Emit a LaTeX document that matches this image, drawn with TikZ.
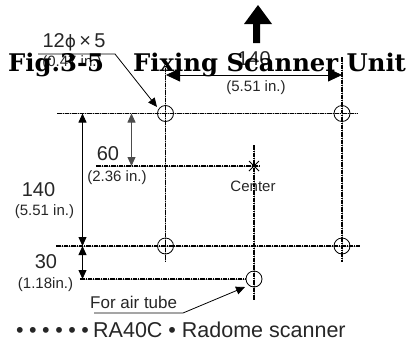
\documentclass[tikz,border=0pt]{standalone}
\usepackage{fontspec}
\setmainfont{Liberation Sans}
\newfontfamily\titlefont{DejaVu Serif}
\newfontfamily\symfont{DejaVu Sans}
\usetikzlibrary{arrows.meta}
\tikzset{
 x=1pt,y=-1pt,
 cl/.style={line width=1.1pt,dash pattern=on 4.5pt off 1pt on 1pt off 1pt,black,preaction={draw=black!30,line width=.7pt,solid}},
 hole/.style={circle,draw,line width=.8pt,minimum size=16pt,inner sep=0pt},
 dim/.style={line width=.8pt,{Triangle[length=9pt,width=8pt]}-{Triangle[length=9pt,width=8pt]}},
 dimbig/.style={line width=.8pt,{Triangle[length=14pt,width=13pt]}-{Triangle[length=14pt,width=13pt]}},
 lead/.style={line width=.8pt,-{Triangle[length=9pt,width=8pt]}},
 big/.style={font=\fontsize{20}{20}\selectfont,inner sep=0pt,text=black!85},
 small/.style={font=\fontsize{15}{15}\selectfont,inner sep=0pt,text=black!85},
 ttl/.style={font=\titlefont\bfseries\fontsize{24.3}{24.3}\selectfont,inner sep=0pt,anchor=base west},
 foot/.style={font=\fontsize{21.5}{21.5}\selectfont,inner sep=0pt,text=black!85,anchor=base west},
}
\begin{document}
\begin{tikzpicture}
\useasboundingbox (0,0) rectangle (412,346);
\coordinate (tl) at (165.5,113.5);
\coordinate (tr) at (342,113.5);
\coordinate (bl) at (165.5,246);
\coordinate (br) at (342,246);
\coordinate (air) at (254,279);
\coordinate (ctr) at (254,166);
% up arrow
\fill (253,43) -- (253,24) -- (244,24) -- (258,5) -- (272,24) -- (260,24) -- (260,43) -- cycle;
% texts under the title
\node[big] (a) at (74,42) {12{\symfont\fontsize{17}{17}\selectfont ϕ}\,×\,5};
\node[small] (a2) at (72,63) {(0.47 in.)};
\node[big] (b) at (254,59) {140};
\node[small] (b2) at (256,88) {(5.51 in.)};
% title
\node[ttl] (t1) at (8,71) {Fig.3-5};
\node[ttl] (t2) at (133,71) {Fixing Scanner Unit};
% centre lines
\draw[cl] (165.5,60) -- (165.5,262);
\draw[cl] (342,57) -- (342,262);
\draw[cl] (254,145) -- (254,300);
\draw[cl] (57,113.5) -- (358,113.5);
\draw[cl] (96,166) -- (260,166);
\draw[cl] (56,246) -- (360,246);
\draw[cl] (80,279) -- (246,279);
% holes
\node[hole] (h1) at (tl) {};
\node[hole] (h2) at (tr) {};
\node[hole] (h3) at (bl) {};
\node[hole] (h4) at (br) {};
\node[hole] (h5) at (air) {};
\draw[line width=.8pt] (249,161) -- (259,171) (249,171) -- (259,161);
% dimensions
\coordinate (d1a) at (82.5,113.5); \coordinate (d1b) at (82.5,246);
\draw[dim] (d1a) -- (d1b);
\coordinate (d2a) at (131.5,113.5); \coordinate (d2b) at (131.5,166);
\draw[dim,black!70] (d2a) -- (d2b);
\coordinate (d3a) at (82.5,246); \coordinate (d3b) at (82.5,279);
\draw[dim] (d3a) -- (d3b);
\coordinate (d4a) at (166,75); \coordinate (d4b) at (342,75);
\draw[dimbig] (d4a) -- (d4b);
% leaders
\coordinate (l1) at (38,54); \coordinate (l2) at (115,54); \coordinate (l3) at (157,107);
\draw[lead] (l1) -- (l2) -- (l3);
\coordinate (l4) at (94,313); \coordinate (l5) at (183,313); \coordinate (l6) at (245,287);
\draw[lead] (l4) -- (l5) -- (l6);
% texts
\node[big] (c) at (108,154) {60};
\node[small] (c2) at (117,178) {(2.36 in.)};
\node[big] (d) at (38.5,190) {140};
\node[small] (d2) at (44.5,212) {(5.51 in.)};
\node[big] (e) at (46,262) {30};
\node[small] (e2) at (45.5,285) {(1.18in.)};
\node[small] (f) at (253,186) {Center};
\node[font=\fontsize{17}{17}\selectfont,inner sep=0pt,text=black!85,anchor=base west] (g) at (90,308) {For air tube};
\node[foot] (h0) at (16,337) {•\hspace{5.5pt}•\hspace{5.5pt}•\hspace{5.5pt}•\hspace{5.5pt}•\hspace{5.5pt}•};
\node[foot] (h) at (93,337) {RA40C • Radome scanner};
\end{tikzpicture}
\end{document}
